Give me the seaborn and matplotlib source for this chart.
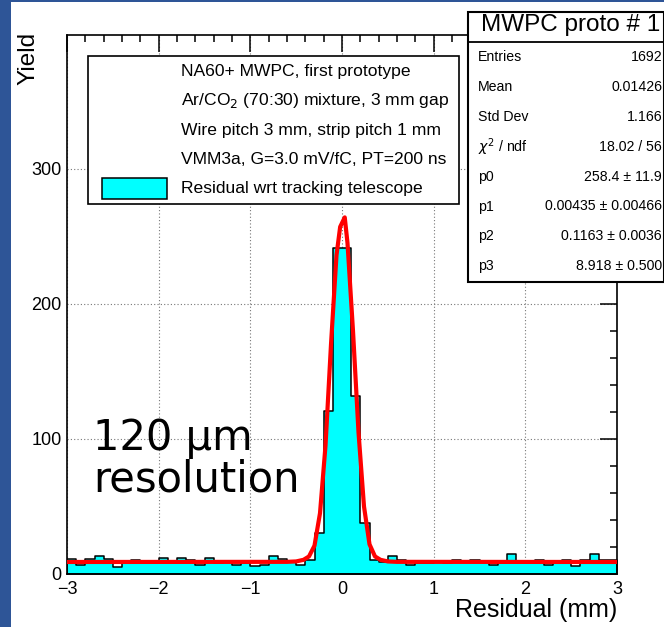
import matplotlib
matplotlib.use("Agg")
import matplotlib.pyplot as plt
from matplotlib.patches import Rectangle
from matplotlib.ticker import MultipleLocator
import numpy as np
import pandas as pd
import seaborn as sns

# residual histogram, 60 bins of 0.1 mm from -3 to 3 (counts)
bin_width = 0.1
x_range = (-3.0, 3.0)
counts = [11, 7, 11, 13, 11, 5, 9, 10, 9, 9, 12, 9, 12, 10, 7, 12, 8, 9, 7, 8,
          6, 7, 13, 11, 9, 7, 10, 30, 121, 241, 241, 132, 38, 10, 9, 13, 10, 7, 8, 8,
          9, 8, 10, 9, 10, 9, 7, 8, 15, 9, 8, 10, 7, 9, 10, 6, 10, 15, 10, 10]

# red fit curve
fit_x = [-3.0, -0.6, -0.5, -0.42, -0.36, -0.30, -0.24, -0.18, -0.12, -0.06, -0.02,
         0.03, 0.06, 0.12, 0.18, 0.24, 0.30, 0.36, 0.42, 0.5, 0.6, 3.0]
fit_y = [8.9, 9.0, 9.3, 10.5, 13, 21, 45, 95, 170, 236, 257,
         264, 245, 180, 105, 50, 22, 13, 10.5, 9.3, 9.0, 8.9]

legend_lines = ["NA60+ MWPC, first prototype",
                "Ar/CO$_2$ (70:30) mixture, 3 mm gap",
                "Wire pitch 3 mm, strip pitch 1 mm",
                "VMM3a, G=3.0 mV/fC, PT=200 ns",
                "Residual wrt tracking telescope"]

stats_title = "MWPC proto # 1"
stats_names = ["Entries", "Mean", "Std Dev", r"$\chi^2$ / ndf", "p0", "p1", "p2", "p3"]
stats_values = ["1692", "0.01426", "1.166", "18.02 / 56", "258.4 ± 11.9",
                "0.00435 ± 0.00466", "0.1163 ± 0.0036", "8.918 ± 0.500"]

sns.set_style("white")
plt.rcParams["font.family"] = ["Liberation Sans", "DejaVu Sans"]
plt.rcParams["axes.unicode_minus"] = True
plt.rcParams["text.color"] = "black"
plt.rcParams["xtick.color"] = "black"
plt.rcParams["ytick.color"] = "black"
plt.rcParams["axes.labelcolor"] = "black"

W, H = 664, 627
fig = plt.figure(figsize=(W / 100, H / 100), dpi=100)
ax = fig.add_axes([67 / W, 1 - 574 / H, 550 / W, 539 / H])

edges = np.linspace(x_range[0], x_range[1], len(counts) + 1)
hist_df = pd.DataFrame({"residual": (edges[:-1] + edges[1:]) / 2, "count": counts})
sns.histplot(data=hist_df, x="residual", weights="count", binwidth=bin_width,
             binrange=x_range, element="step", fill=True, color="#00ffff", alpha=1,
             edgecolor="black", linewidth=1.1, ax=ax, zorder=2)
sns.lineplot(x=fit_x, y=fit_y, color="#ff0000", linewidth=3.0, ax=ax, zorder=3)

ax.set_xlim(-3, 3)
ax.set_ylim(0, 399)
ax.set_xlabel("")
ax.set_ylabel("")
ax.xaxis.set_major_locator(MultipleLocator(1))
ax.xaxis.set_minor_locator(MultipleLocator(0.2))
ax.yaxis.set_major_locator(MultipleLocator(100))
ax.yaxis.set_minor_locator(MultipleLocator(20))
ax.tick_params(which="both", direction="in", top=True, right=True, color="black",
               labelcolor="black", width=1.1, labelsize=13)
ax.tick_params(which="major", length=12)
ax.tick_params(which="minor", length=5)
ax.tick_params(axis="x", pad=5)
ax.tick_params(axis="y", pad=4)
ax.grid(True, which="major", linestyle=(0, (1, 2)), color="#777777", linewidth=0.8)
ax.set_axisbelow(True)
for s in ax.spines.values():
    s.set_color("black")
    s.set_linewidth(1.2)

# axis titles placed like ROOT does
fig.text(617 / W, 1 - 610 / H, "Residual (mm)", ha="right", va="center", fontsize=18)
fig.text(28 / W, 1 - 32 / H, "Yield", ha="center", va="top", rotation=90, fontsize=17.5)

# big annotation
fig.text(93 / W, 1 - 450 / H, "120 μm", family="DejaVu Sans", fontsize=30,
         ha="left", va="baseline", zorder=5)
fig.text(93 / W, 1 - 492 / H, "resolution", family="DejaVu Sans", fontsize=30,
         ha="left", va="baseline", zorder=5)

# legend box
fig.patches.append(Rectangle((88 / W, 1 - 204 / H), 371 / W, 148 / H,
                             transform=fig.transFigure, facecolor="white",
                             edgecolor="black", linewidth=1.2, zorder=4))
for i, line in enumerate(legend_lines):
    fig.text(181 / W, 1 - (71.5 + 29.3 * i) / H, line, ha="left", va="center",
             fontsize=12.6, zorder=5)
fig.patches.append(Rectangle((102 / W, 1 - 199 / H), 65 / W, 21 / H,
                             transform=fig.transFigure, facecolor="#00ffff",
                             edgecolor="black", linewidth=1.1, zorder=5))

# stats box
fig.patches.append(Rectangle((468 / W, 1 - 282 / H), 196 / W, 270 / H,
                             transform=fig.transFigure, facecolor="white",
                             edgecolor="black", linewidth=1.5, zorder=6))
fig.lines.append(plt.Line2D([468 / W, 1], [1 - 42 / H, 1 - 42 / H],
                            transform=fig.transFigure, color="black", linewidth=1.3,
                            zorder=7))
fig.text(571 / W, 1 - 25 / H, stats_title, ha="center", va="center", fontsize=17.5,
         zorder=7)
for i, (name, val) in enumerate(zip(stats_names, stats_values)):
    y = 1 - (57 + 29.9 * i) / H
    fig.text(478 / W, y, name, ha="left", va="center", fontsize=10.2, zorder=7)
    fig.text(662 / W, y, val, ha="right", va="center", fontsize=10.2, zorder=7)

# slide decoration: blue strip on the left and at the top
fig.patches.append(Rectangle((0, 0), 11 / W, 1, transform=fig.transFigure,
                             facecolor="#2e5597", edgecolor="none", zorder=8))
fig.patches.append(Rectangle((0, 1 - 2 / H), 1, 2 / H, transform=fig.transFigure,
                             facecolor="#2e5597", edgecolor="none", zorder=8))

fig.savefig("out.png", dpi=100)
